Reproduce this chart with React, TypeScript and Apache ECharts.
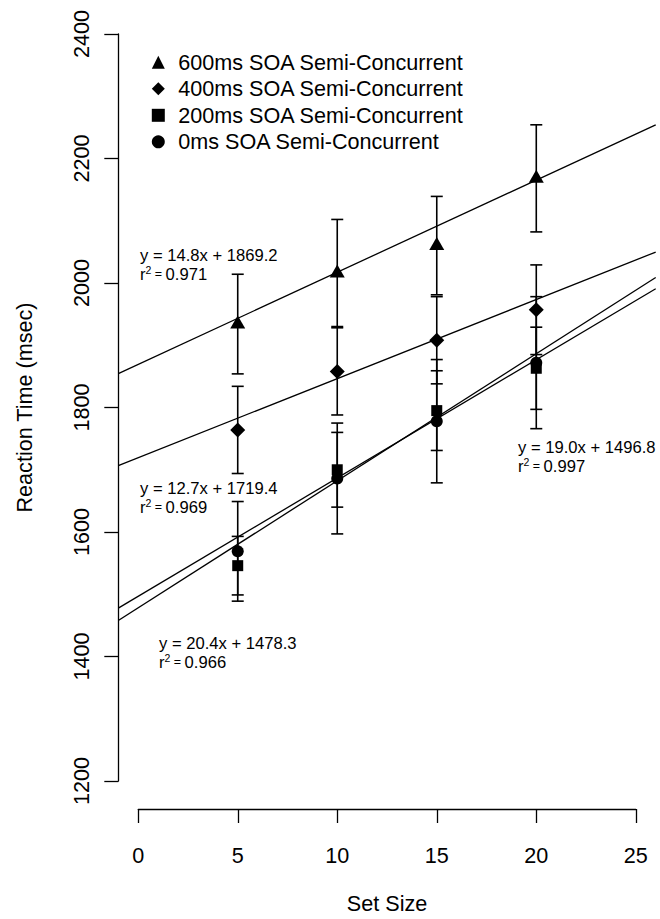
import React, { useEffect, useRef } from "react";
import * as echarts from "echarts";

// ---- data ----
const setSizes = [5, 10, 15, 20];
const seriesNames = [
  "600ms SOA Semi-Concurrent",
  "400ms SOA Semi-Concurrent",
  "200ms SOA Semi-Concurrent",
  "0ms SOA Semi-Concurrent",
];
const rt600 = [1934, 2016, 2060, 2168];
const se600 = [80, 86, 79, 86];
const rt400 = [1764, 1858, 1908, 1957];
const se400 = [70, 70, 70, 72];
const rt200 = [1546, 1700, 1795, 1863];
const se200 = [47, 60, 64, 66];
const rt0 = [1569, 1686, 1778, 1872];
const se0 = [80, 89, 99, 106];

// regression equations printed on the chart
const slopes = [14.8, 12.7, 20.4, 19.0];
const intercepts = [1869.2, 1719.4, 1478.3, 1496.8];
const rSquared = [0.971, 0.969, 0.966, 0.997];

const xTickMin = 0;
const xTickMax = 25;
const xTickStep = 5;
const yTickMin = 1200;
const yTickMax = 2400;
const yTickStep = 200;

const FONT = "'Liberation Sans', Arial, Helvetica, sans-serif";

export default function App() {
  const ref = useRef<HTMLDivElement>(null);

  useEffect(() => {
    document.body.style.margin = "0";
    const chart = echarts.init(ref.current!, null, { renderer: "svg" });

    const means = [rt600, rt400, rt200, rt0];
    const errs = [se600, se400, se200, se0];
    const symbols = ["triangle", "diamond", "rect", "circle"];
    const symbolSizes: any[] = [[15, 13], [15, 15], 11, 12];
    const symbolOffsets: any[] = [[0, -2], [0, 0], [0, 0], [0, 0]];

    const xRange = xTickMax - xTickMin;
    const yRange = yTickMax - yTickMin;
    const xLo = xTickMin - 0.04 * xRange;
    const xHi = xTickMax + 0.04 * xRange;
    const yLo = yTickMin - 0.04 * yRange;
    const yHi = yTickMax + 0.04 * yRange;

    const errData: number[][] = [];
    means.forEach((m, s) =>
      m.forEach((v, i) => errData.push([setSizes[i], v - errs[s][i], v + errs[s][i]]))
    );

    const series: any[] = [];

    // regression lines
    slopes.forEach((b, i) => {
      series.push({
        type: "line",
        xAxisIndex: 0,
        yAxisIndex: 0,
        data: [
          [xLo, intercepts[i] + b * xLo],
          [xHi, intercepts[i] + b * xHi],
        ],
        symbol: "none",
        silent: true,
        clip: true,
        lineStyle: { color: "#000", width: 1.3 },
        z: 2,
      });
    });

    // error bars
    series.push({
      type: "custom",
      xAxisIndex: 0,
      yAxisIndex: 0,
      data: errData,
      encode: { x: 0, y: [1, 2] },
      silent: true,
      z: 3,
      renderItem: (params: any, api: any) => {
        const x = api.value(0);
        const pLo = api.coord([x, api.value(1)]);
        const pHi = api.coord([x, api.value(2)]);
        const cap = 6;
        const st = { stroke: "#000", lineWidth: 1.6 };
        return {
          type: "group",
          children: [
            { type: "line", shape: { x1: pLo[0], y1: pLo[1], x2: pHi[0], y2: pHi[1] }, style: st },
            { type: "line", shape: { x1: pLo[0] - cap, y1: pLo[1], x2: pLo[0] + cap, y2: pLo[1] }, style: st },
            { type: "line", shape: { x1: pHi[0] - cap, y1: pHi[1], x2: pHi[0] + cap, y2: pHi[1] }, style: st },
          ],
        };
      },
    });

    // markers
    means.forEach((m, s) => {
      series.push({
        name: seriesNames[s],
        type: "scatter",
        xAxisIndex: 0,
        yAxisIndex: 0,
        data: m.map((v, i) => [setSizes[i], v]),
        symbol: symbols[s],
        symbolSize: symbolSizes[s],
        symbolOffset: symbolOffsets[s],
        itemStyle: { color: "#000", opacity: 1 },
        z: 4,
      });
    });

    const annotPos = [
      [140, 255],
      [140, 488],
      [159, 643],
      [518, 447],
    ];
    const AF = 16.6;
    const graphic: any[] = [];
    slopes.forEach((b, i) => {
      const [px, py] = annotPos[i];
      graphic.push({
        type: "text",
        x: px,
        y: py,
        silent: true,
        style: {
          text: `y = ${b.toFixed(1)}x + ${intercepts[i].toFixed(1)}`,
          font: `${AF}px ${FONT}`,
          fill: "#000",
          verticalAlign: "middle",
          align: "left",
        },
      });
      graphic.push({
        type: "text",
        x: px,
        y: py + 19,
        silent: true,
        style: {
          text: `{a|r}{s|2}{e| = }{a|${rSquared[i].toFixed(3)}}`,
          verticalAlign: "middle",
          align: "left",
          rich: {
            a: { fontSize: AF, fontFamily: FONT, fill: "#000", lineHeight: 20 },
            e: { fontSize: 12.5, fontFamily: FONT, fill: "#000", lineHeight: 20 },
            s: { fontSize: 10.5, fontFamily: FONT, fill: "#000", verticalAlign: "top", lineHeight: 11 },
          },
        },
      });
    });

    const axisLine = { show: true, lineStyle: { color: "#000", width: 1.3 } };

    chart.setOption({
      animation: false,
      backgroundColor: "#fff",
      textStyle: { fontFamily: FONT },
      grid: [
        { left: 118.3, right: 4.3, top: 4, bottom: 108 },
        { left: 138.3, width: 497.5, top: 4, bottom: 108 },
        { left: 118.3, right: 4.3, top: 34, height: 747 },
      ],
      xAxis: [
        { gridIndex: 0, type: "value", min: xLo, max: xHi, show: false },
        {
          gridIndex: 1,
          type: "value",
          min: xTickMin,
          max: xTickMax,
          interval: xTickStep,
          position: "bottom",
          axisLine,
          axisTick: { show: true, length: 14, lineStyle: { color: "#000", width: 1.3 } },
          axisLabel: {
            color: "#000",
            fontSize: 21.6,
            margin: 35,
            fontFamily: FONT,
            formatter: (v: number) => String(v),
          },
          splitLine: { show: false },
          name: "Set Size",
          nameLocation: "middle",
          nameGap: 83,
          nameTextStyle: { color: "#000", fontSize: 21.6, fontFamily: FONT },
        },
        { gridIndex: 2, type: "value", show: false },
      ],
      yAxis: [
        { gridIndex: 0, type: "value", min: yLo, max: yHi, show: false },
        { gridIndex: 1, type: "value", show: false },
        {
          gridIndex: 2,
          type: "value",
          min: yTickMin,
          max: yTickMax,
          interval: yTickStep,
          position: "left",
          axisLine,
          axisTick: { show: true, length: 14, lineStyle: { color: "#000", width: 1.3 } },
          axisLabel: {
            color: "#000",
            fontSize: 21.6,
            margin: 25.5,
            rotate: 90,
            fontFamily: FONT,
            formatter: (v: number) => String(v),
          },
          splitLine: { show: false },
          name: "Reaction Time (msec)",
          nameLocation: "middle",
          nameGap: 82.5,
          nameTextStyle: { color: "#000", fontSize: 21.6, fontFamily: FONT },
        },
      ],
      legend: {
        data: seriesNames,
        orient: "vertical",
        left: 151.8,
        top: 51.3,
        padding: 0,
        itemWidth: 13,
        itemHeight: 13,
        itemGap: 4.5,
        selectedMode: false,
        itemStyle: { color: "#000", opacity: 1 },
        textStyle: {
          color: "#000",
          fontSize: 21.6,
          fontFamily: FONT,
          padding: [0, 0, 0, 8.5],
        },
      },
      graphic,
      series,
    });

    return () => chart.dispose();
  }, []);

  return (
    <div
      ref={ref}
      style={{ position: "fixed", left: 0, top: 0, width: 660, height: 919, background: "#fff" }}
    />
  );
}
